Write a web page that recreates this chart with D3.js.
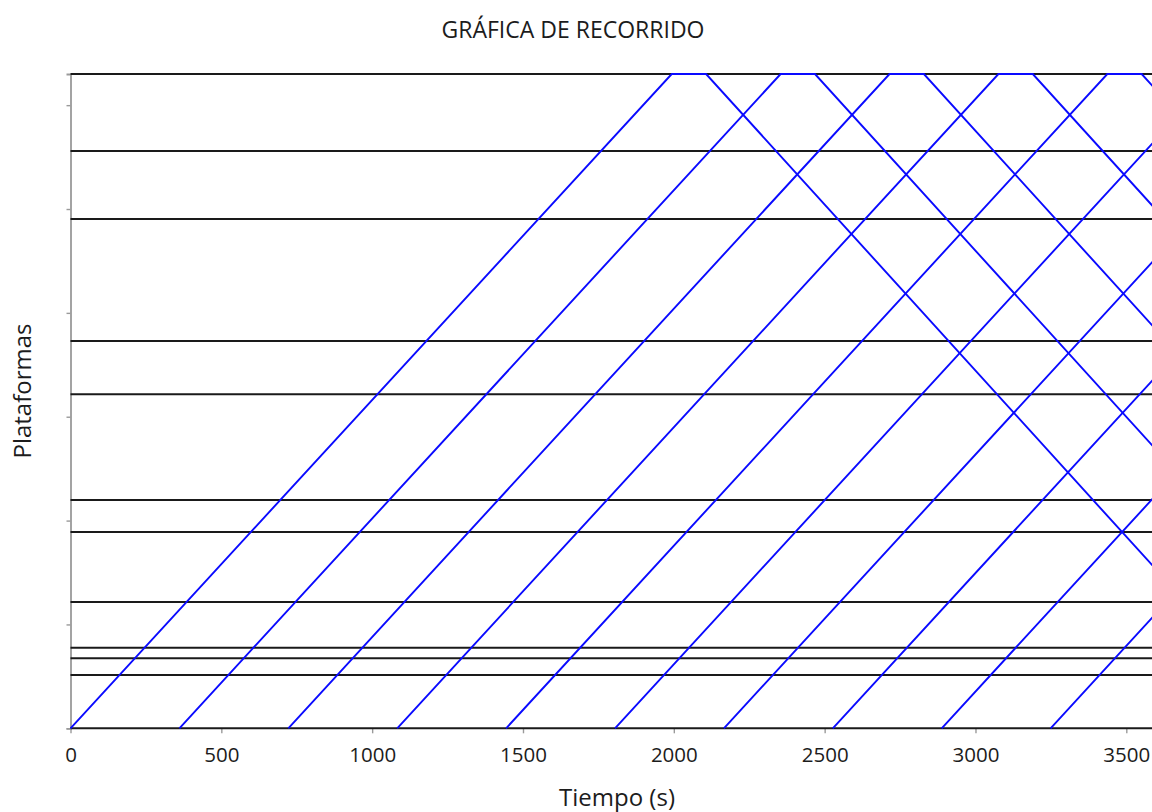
<!DOCTYPE html>
<html>
<head>
<meta charset="utf-8">
<script src="https://cdn.jsdelivr.net/npm/d3@7"></script>
<style>
  body { margin: 0; background: #fff; overflow: hidden; }
  text { font-family: "Open Sans", sans-serif; fill: #1c1c1c; }
</style>
</head>
<body>
<script>
// platform positions along the line (m)
var platforms = [0, 513, 674, 776, 1216, 1890, 2198, 3216, 3729, 4904, 5558, 6300];

// each train: leaves the first platform, reaches the terminus, waits, comes back (s)
var departBase = [0, 361, 722, 1083, 1444, 1805, 2166, 2527, 2888, 3249];
var arriveTop  = [1993, 2354, 2715, 3076, 3437, 3798, 4159, 4520, 4881, 5242];
var departTop  = [2107, 2468, 2829, 3190, 3551, 3912, 4273, 4634, 4995, 5356];
var arriveBase = [4077, 4438, 4799, 5160, 5521, 5882, 6243, 6604, 6965, 7326];

var xTicks = [0, 500, 1000, 1500, 2000, 2500, 3000, 3500, 4000];
var yTicks = [0, 1000, 2000, 3000, 4000, 5000, 6000];

var width = 1152,
    height = 812;

var svg = d3.select('body')
    .append('svg')
    .attr('width', width)
    .attr('height', height);

var x = d3.scaleLinear().domain([0, 4000]).range([70.5, 70.5 + 4000 * 0.30166]);
var y = d3.scaleLinear().domain([0, 6300]).range([728.3, 74]);

// y axis (no labels, small ticks)
var yAxis = svg.append('g')
    .attr('transform', 'translate(70.5,0)')
    .call(d3.axisLeft(y).tickValues(yTicks).tickSize(4).tickFormat(''));
yAxis.select('.domain').attr('stroke', '#9a9a9a').attr('stroke-width', 1.8);
yAxis.selectAll('.tick line').attr('stroke', '#9a9a9a').attr('stroke-width', 1.4);

// x axis
var xAxis = svg.append('g')
    .attr('transform', 'translate(0,' + y(0) + ')')
    .call(d3.axisBottom(x).tickValues(xTicks).tickSize(5).tickPadding(14).tickFormat(d3.format('d')));
xAxis.select('.domain').remove();
xAxis.selectAll('.tick line').attr('stroke', '#9a9a9a').attr('stroke-width', 1.4);
xAxis.selectAll('.tick text')
    .style('font-size', '20.5px')
    .style('font-family', '"Open Sans", sans-serif')
    .attr('fill', '#1c1c1c');

// platform lines
svg.append('g')
    .selectAll('line')
    .data(platforms)
    .enter().append('line')
    .attr('x1', x(0))
    .attr('x2', width)
    .attr('y1', function(d) { return y(d); })
    .attr('y2', function(d) { return y(d); })
    .attr('stroke', '#1a1a1a')
    .attr('stroke-width', 2);

// train paths
var trips = departBase.map(function(t0, i) {
    return [
        [t0, 0],
        [arriveTop[i], 6300],
        [departTop[i], 6300],
        [arriveBase[i], 0]
    ];
});

var line = d3.line()
    .x(function(d) { return x(d[0]); })
    .y(function(d) { return y(d[1]); });

svg.append('g')
    .selectAll('path')
    .data(trips)
    .enter().append('path')
    .attr('d', line)
    .attr('fill', 'none')
    .attr('stroke', '#0a0aff')
    .attr('stroke-width', 1.9);

// titles
svg.append('text')
    .attr('x', 573)
    .attr('y', 38)
    .attr('text-anchor', 'middle')
    .style('font-size', '23px')
    .text('GRÁFICA DE RECORRIDO');

svg.append('text')
    .attr('x', 617)
    .attr('y', 806)
    .attr('text-anchor', 'middle')
    .style('font-size', '24px')
    .text('Tiempo (s)');

svg.append('text')
    .attr('transform', 'translate(31,391) rotate(-90)')
    .attr('text-anchor', 'middle')
    .style('font-size', '24px')
    .text('Plataformas');
</script>
</body>
</html>
